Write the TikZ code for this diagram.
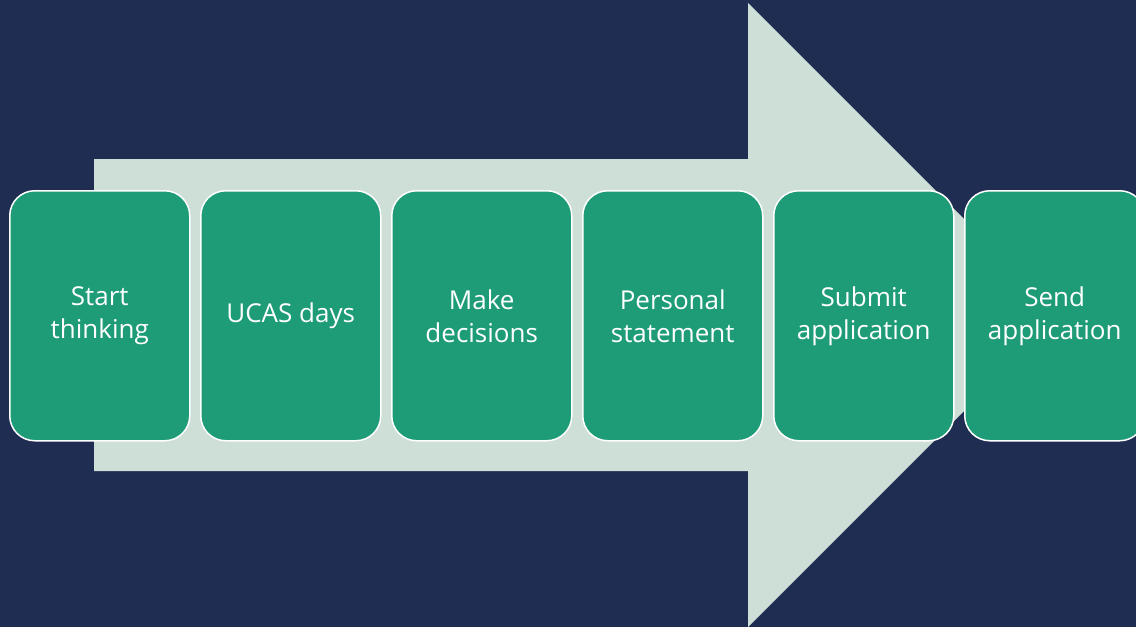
\documentclass[tikz,border=0pt]{standalone}
\usepackage{fontspec}
\setmainfont{Open Sans}
\definecolor{bgnavy}{HTML}{1F2D52}
\definecolor{arrowgrey}{HTML}{CEDFD7}
\definecolor{boxgreen}{HTML}{1E9B77}
\begin{document}
\begin{tikzpicture}[x=1pt,y=-1pt,
  stepbox/.style={draw=white,line width=1.5pt,fill=boxgreen,rounded corners=25pt,
    minimum width=180pt,minimum height=250pt,inner sep=0pt,anchor=north west,
    text=white,align=center,font=\fontsize{26}{33}\selectfont}]
\useasboundingbox (0,0) rectangle (1136,627);
\clip (0,0) rectangle (1136,627);
\fill[bgnavy] (0,0) rectangle (1136,627);
\fill[arrowgrey] (94,159) -- (748,159) -- (748,3) -- (1060,315) -- (748,627) -- (748,471) -- (94,471) -- cycle;
\node[stepbox] (s1) at (9,190) {Start\\thinking};
\node[stepbox] (s2) at (200,190) {UCAS days};
\node[stepbox] (s3) at (391,190) {Make\\decisions};
\node[stepbox] (s4) at (582,190) {Personal\\statement};
\node[stepbox] (s5) at (773,190) {Submit\\application};
\node[stepbox] (s6) at (964,190) {Send\\application};
\end{tikzpicture}
\end{document}
